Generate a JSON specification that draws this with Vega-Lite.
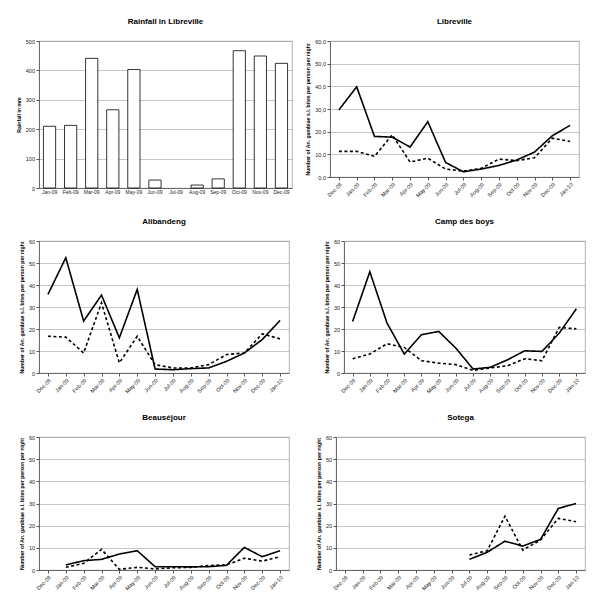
{
  "$schema": "https://vega.github.io/schema/vega-lite/v6.json",
  "background": "white",
  "padding": {"left": 15, "top": 17, "right": 5, "bottom": 5},
  "spacing": 18,
  "config": {
    "font": "Liberation Sans",
    "view": {"stroke": "#a0a0a0", "strokeWidth": 0.8},
    "title": {"fontSize": 8, "fontWeight": "bold", "color": "#000", "offset": 13, "anchor": "middle"},
    "axis": {
      "labelFont": "Liberation Sans", "labelFontSize": 5.5, "labelColor": "#222",
      "titleFont": "Liberation Sans", "titleFontSize": 5.2, "titleFontWeight": "bold", "titleColor": "#000",
      "gridColor": "#a0a0a0", "gridWidth": 0.6, "domainColor": "#555", "domainWidth": 0.8,
      "tickColor": "#555", "tickSize": 3, "labelPadding": 1.5, "titlePadding": 4
    }
  },
  "datasets": {
    "rain": [
      {"month": "Jan-09", "mm": 210}, {"month": "Feb-09", "mm": 213}, {"month": "Mar-09", "mm": 441},
      {"month": "Apr-09", "mm": 266}, {"month": "May-09", "mm": 403}, {"month": "Jun-09", "mm": 27},
      {"month": "Jul-09", "mm": 0}, {"month": "Aug-09", "mm": 10}, {"month": "Sep-09", "mm": 31},
      {"month": "Oct-09", "mm": 467}, {"month": "Nov-09", "mm": 449}, {"month": "Dec-09", "mm": 424}
    ],
    "bites": [
      {"site": "Libreville", "series": "A", "month": "Dec-08", "value": 29.6},
      {"site": "Libreville", "series": "A", "month": "Jan-09", "value": 39.8},
      {"site": "Libreville", "series": "A", "month": "Feb-09", "value": 17.9},
      {"site": "Libreville", "series": "A", "month": "Mar-09", "value": 17.6},
      {"site": "Libreville", "series": "A", "month": "Apr-09", "value": 13.2},
      {"site": "Libreville", "series": "A", "month": "May-09", "value": 24.4},
      {"site": "Libreville", "series": "A", "month": "Jun-09", "value": 6.4},
      {"site": "Libreville", "series": "A", "month": "Jul-09", "value": 2.3},
      {"site": "Libreville", "series": "A", "month": "Aug-09", "value": 3.5},
      {"site": "Libreville", "series": "A", "month": "Sep-09", "value": 5.1},
      {"site": "Libreville", "series": "A", "month": "Oct-09", "value": 7.5},
      {"site": "Libreville", "series": "A", "month": "Nov-09", "value": 11.0},
      {"site": "Libreville", "series": "A", "month": "Dec-09", "value": 18.2},
      {"site": "Libreville", "series": "A", "month": "Jan-10", "value": 22.8},
      {"site": "Libreville", "series": "B", "month": "Dec-08", "value": 11.3},
      {"site": "Libreville", "series": "B", "month": "Jan-09", "value": 11.3},
      {"site": "Libreville", "series": "B", "month": "Feb-09", "value": 9.1},
      {"site": "Libreville", "series": "B", "month": "Mar-09", "value": 18.6},
      {"site": "Libreville", "series": "B", "month": "Apr-09", "value": 6.6},
      {"site": "Libreville", "series": "B", "month": "May-09", "value": 8.3},
      {"site": "Libreville", "series": "B", "month": "Jun-09", "value": 3.5},
      {"site": "Libreville", "series": "B", "month": "Jul-09", "value": 2.6},
      {"site": "Libreville", "series": "B", "month": "Aug-09", "value": 3.8},
      {"site": "Libreville", "series": "B", "month": "Sep-09", "value": 7.9},
      {"site": "Libreville", "series": "B", "month": "Oct-09", "value": 7.2},
      {"site": "Libreville", "series": "B", "month": "Nov-09", "value": 8.5},
      {"site": "Libreville", "series": "B", "month": "Dec-09", "value": 17.1},
      {"site": "Libreville", "series": "B", "month": "Jan-10", "value": 15.7},
      {"site": "Alibandeng", "series": "A", "month": "Dec-08", "value": 35.7},
      {"site": "Alibandeng", "series": "A", "month": "Jan-09", "value": 52.4},
      {"site": "Alibandeng", "series": "A", "month": "Feb-09", "value": 23.6},
      {"site": "Alibandeng", "series": "A", "month": "Mar-09", "value": 35.4},
      {"site": "Alibandeng", "series": "A", "month": "Apr-09", "value": 16.0},
      {"site": "Alibandeng", "series": "A", "month": "May-09", "value": 38.0},
      {"site": "Alibandeng", "series": "A", "month": "Jun-09", "value": 1.8},
      {"site": "Alibandeng", "series": "A", "month": "Jul-09", "value": 1.5},
      {"site": "Alibandeng", "series": "A", "month": "Aug-09", "value": 2.0},
      {"site": "Alibandeng", "series": "A", "month": "Sep-09", "value": 2.3},
      {"site": "Alibandeng", "series": "A", "month": "Oct-09", "value": 5.3},
      {"site": "Alibandeng", "series": "A", "month": "Nov-09", "value": 9.1},
      {"site": "Alibandeng", "series": "A", "month": "Dec-09", "value": 15.2},
      {"site": "Alibandeng", "series": "A", "month": "Jan-10", "value": 23.9},
      {"site": "Alibandeng", "series": "B", "month": "Dec-08", "value": 16.7},
      {"site": "Alibandeng", "series": "B", "month": "Jan-09", "value": 16.3},
      {"site": "Alibandeng", "series": "B", "month": "Feb-09", "value": 9.1},
      {"site": "Alibandeng", "series": "B", "month": "Mar-09", "value": 31.9},
      {"site": "Alibandeng", "series": "B", "month": "Apr-09", "value": 4.6},
      {"site": "Alibandeng", "series": "B", "month": "May-09", "value": 16.7},
      {"site": "Alibandeng", "series": "B", "month": "Jun-09", "value": 3.8},
      {"site": "Alibandeng", "series": "B", "month": "Jul-09", "value": 2.3},
      {"site": "Alibandeng", "series": "B", "month": "Aug-09", "value": 2.3},
      {"site": "Alibandeng", "series": "B", "month": "Sep-09", "value": 3.8},
      {"site": "Alibandeng", "series": "B", "month": "Oct-09", "value": 8.4},
      {"site": "Alibandeng", "series": "B", "month": "Nov-09", "value": 9.1},
      {"site": "Alibandeng", "series": "B", "month": "Dec-09", "value": 17.8},
      {"site": "Alibandeng", "series": "B", "month": "Jan-10", "value": 15.5},
      {"site": "Camp des boys", "series": "A", "month": "Dec-08", "value": 23.4},
      {"site": "Camp des boys", "series": "A", "month": "Jan-09", "value": 46.0},
      {"site": "Camp des boys", "series": "A", "month": "Feb-09", "value": 22.7},
      {"site": "Camp des boys", "series": "A", "month": "Mar-09", "value": 8.6},
      {"site": "Camp des boys", "series": "A", "month": "Apr-09", "value": 17.4},
      {"site": "Camp des boys", "series": "A", "month": "May-09", "value": 18.9},
      {"site": "Camp des boys", "series": "A", "month": "Jun-09", "value": 11.3},
      {"site": "Camp des boys", "series": "A", "month": "Jul-09", "value": 1.8},
      {"site": "Camp des boys", "series": "A", "month": "Aug-09", "value": 2.6},
      {"site": "Camp des boys", "series": "A", "month": "Sep-09", "value": 6.0},
      {"site": "Camp des boys", "series": "A", "month": "Oct-09", "value": 10.1},
      {"site": "Camp des boys", "series": "A", "month": "Nov-09", "value": 9.8},
      {"site": "Camp des boys", "series": "A", "month": "Dec-09", "value": 18.1},
      {"site": "Camp des boys", "series": "A", "month": "Jan-10", "value": 29.2},
      {"site": "Camp des boys", "series": "B", "month": "Dec-08", "value": 6.5},
      {"site": "Camp des boys", "series": "B", "month": "Jan-09", "value": 8.6},
      {"site": "Camp des boys", "series": "B", "month": "Feb-09", "value": 13.3},
      {"site": "Camp des boys", "series": "B", "month": "Mar-09", "value": 11.6},
      {"site": "Camp des boys", "series": "B", "month": "Apr-09", "value": 5.6},
      {"site": "Camp des boys", "series": "B", "month": "May-09", "value": 4.5},
      {"site": "Camp des boys", "series": "B", "month": "Jun-09", "value": 3.8},
      {"site": "Camp des boys", "series": "B", "month": "Jul-09", "value": 1.2},
      {"site": "Camp des boys", "series": "B", "month": "Aug-09", "value": 2.3},
      {"site": "Camp des boys", "series": "B", "month": "Sep-09", "value": 3.3},
      {"site": "Camp des boys", "series": "B", "month": "Oct-09", "value": 6.5},
      {"site": "Camp des boys", "series": "B", "month": "Nov-09", "value": 5.6},
      {"site": "Camp des boys", "series": "B", "month": "Dec-09", "value": 20.7},
      {"site": "Camp des boys", "series": "B", "month": "Jan-10", "value": 20.1},
      {"site": "Beauséjour", "series": "A", "month": "Jan-09", "value": 2.3},
      {"site": "Beauséjour", "series": "A", "month": "Feb-09", "value": 4.2},
      {"site": "Beauséjour", "series": "A", "month": "Mar-09", "value": 4.8},
      {"site": "Beauséjour", "series": "A", "month": "Apr-09", "value": 7.2},
      {"site": "Beauséjour", "series": "A", "month": "May-09", "value": 8.7},
      {"site": "Beauséjour", "series": "A", "month": "Jun-09", "value": 1.5},
      {"site": "Beauséjour", "series": "A", "month": "Jul-09", "value": 1.5},
      {"site": "Beauséjour", "series": "A", "month": "Aug-09", "value": 1.4},
      {"site": "Beauséjour", "series": "A", "month": "Sep-09", "value": 1.5},
      {"site": "Beauséjour", "series": "A", "month": "Oct-09", "value": 2.1},
      {"site": "Beauséjour", "series": "A", "month": "Nov-09", "value": 10.2},
      {"site": "Beauséjour", "series": "A", "month": "Dec-09", "value": 6.0},
      {"site": "Beauséjour", "series": "A", "month": "Jan-10", "value": 8.7},
      {"site": "Beauséjour", "series": "B", "month": "Jan-09", "value": 1.2},
      {"site": "Beauséjour", "series": "B", "month": "Feb-09", "value": 3.0},
      {"site": "Beauséjour", "series": "B", "month": "Mar-09", "value": 9.3},
      {"site": "Beauséjour", "series": "B", "month": "Apr-09", "value": 0.3},
      {"site": "Beauséjour", "series": "B", "month": "May-09", "value": 1.2},
      {"site": "Beauséjour", "series": "B", "month": "Jun-09", "value": 0.5},
      {"site": "Beauséjour", "series": "B", "month": "Jul-09", "value": 1.0},
      {"site": "Beauséjour", "series": "B", "month": "Aug-09", "value": 1.2},
      {"site": "Beauséjour", "series": "B", "month": "Sep-09", "value": 2.0},
      {"site": "Beauséjour", "series": "B", "month": "Oct-09", "value": 2.3},
      {"site": "Beauséjour", "series": "B", "month": "Nov-09", "value": 5.3},
      {"site": "Beauséjour", "series": "B", "month": "Dec-09", "value": 4.0},
      {"site": "Beauséjour", "series": "B", "month": "Jan-10", "value": 6.0},
      {"site": "Sotega", "series": "A", "month": "Jul-09", "value": 4.8},
      {"site": "Sotega", "series": "A", "month": "Aug-09", "value": 8.0},
      {"site": "Sotega", "series": "A", "month": "Sep-09", "value": 13.0},
      {"site": "Sotega", "series": "A", "month": "Oct-09", "value": 10.8},
      {"site": "Sotega", "series": "A", "month": "Nov-09", "value": 13.8},
      {"site": "Sotega", "series": "A", "month": "Dec-09", "value": 27.8},
      {"site": "Sotega", "series": "A", "month": "Jan-10", "value": 30.0},
      {"site": "Sotega", "series": "B", "month": "Jul-09", "value": 6.8},
      {"site": "Sotega", "series": "B", "month": "Aug-09", "value": 8.7},
      {"site": "Sotega", "series": "B", "month": "Sep-09", "value": 24.3},
      {"site": "Sotega", "series": "B", "month": "Oct-09", "value": 9.0},
      {"site": "Sotega", "series": "B", "month": "Nov-09", "value": 13.5},
      {"site": "Sotega", "series": "B", "month": "Dec-09", "value": 23.3},
      {"site": "Sotega", "series": "B", "month": "Jan-10", "value": 21.8}
    ]
  },
  "vconcat": [
    {
      "spacing": 12,
      "hconcat": [
        {
          "width": 253, "height": 147,
          "title": "Rainfall in Libreville",
          "data": {"name": "rain"},
          "transform": [{"filter": "datum.mm > 0"}],
          "mark": {"type": "bar", "fill": "white", "stroke": "black", "strokeWidth": 0.8},
          "encoding": {
            "x": {"field": "month", "type": "ordinal",
                  "scale": {"domain": ["Jan-09","Feb-09","Mar-09","Apr-09","May-09","Jun-09","Jul-09","Aug-09","Sep-09","Oct-09","Nov-09","Dec-09"], "paddingInner": 0.42, "paddingOuter": 0.21},
                  "axis": {"title": null, "labelAngle": 0, "labelFontSize": 5, "ticks": false}},
            "y": {"field": "mm", "type": "quantitative", "scale": {"domain": [0, 500]},
                  "axis": {"title": "Rainfall in mm", "values": [0, 100, 200, 300, 400, 500]}}
          }
        },
        {
          "width": 249, "height": 136,
          "title": "Libreville",
          "data": {"name": "bites"},
          "transform": [{"filter": "datum.site === 'Libreville'"}],
          "mark": {"type": "line", "strokeWidth": 1.6, "color": "black"},
          "encoding": {
            "x": {"field": "month", "type": "ordinal",
                  "scale": {"type": "point", "padding": 0.5, "domain": ["Dec-08","Jan-09","Feb-09","Mar-09","Apr-09","May-09","Jun-09","Jul-09","Aug-09","Sep-09","Oct-09","Nov-09","Dec-09","Jan-10"]},
                  "axis": {"title": null, "labelAngle": -45}},
            "y": {"field": "value", "type": "quantitative", "scale": {"domain": [0, 60]},
                  "axis": {"title": "Number of An. gambiae s.l. bites per person per night", "values": [0, 10, 20, 30, 40, 50, 60], "format": ".1f", "labelExpr": "replace(datum.label, '.', ',')"}},
            "strokeDash": {"field": "series", "type": "nominal", "scale": {"domain": ["A", "B"], "range": [[1, 0], [3, 2.5]]}, "legend": null}
          }
        }
      ]
    },
    {
      "spacing": 33,
      "hconcat": [
        {
          "width": 250, "height": 132,
          "title": "Alibandeng",
          "data": {"name": "bites"},
          "transform": [{"filter": "datum.site === 'Alibandeng'"}],
          "mark": {"type": "line", "strokeWidth": 1.6, "color": "black"},
          "encoding": {
            "x": {"field": "month", "type": "ordinal",
                  "scale": {"type": "point", "padding": 0.5, "domain": ["Dec-08","Jan-09","Feb-09","Mar-09","Apr-09","May-09","Jun-09","Jul-09","Aug-09","Sep-09","Oct-09","Nov-09","Dec-09","Jan-10"]},
                  "axis": {"title": null, "labelAngle": -45}},
            "y": {"field": "value", "type": "quantitative", "scale": {"domain": [0, 60]},
                  "axis": {"title": "Number of An. gambiae s.l. bites per person per night", "values": [0, 10, 20, 30, 40, 50, 60]}},
            "strokeDash": {"field": "series", "type": "nominal", "scale": {"domain": ["A", "B"], "range": [[1, 0], [3, 2.5]]}, "legend": null}
          }
        },
        {
          "width": 241, "height": 132,
          "title": "Camp des boys",
          "data": {"name": "bites"},
          "transform": [{"filter": "datum.site === 'Camp des boys'"}],
          "mark": {"type": "line", "strokeWidth": 1.6, "color": "black"},
          "encoding": {
            "x": {"field": "month", "type": "ordinal",
                  "scale": {"type": "point", "padding": 0.5, "domain": ["Dec-08","Jan-09","Feb-09","Mar-09","Apr-09","May-09","Jun-09","Jul-09","Aug-09","Sep-09","Oct-09","Nov-09","Dec-09","Jan-10"]},
                  "axis": {"title": null, "labelAngle": -45}},
            "y": {"field": "value", "type": "quantitative", "scale": {"domain": [0, 60]},
                  "axis": {"title": "Number of An. gambiae s.l. bites per person per night", "values": [0, 10, 20, 30, 40, 50, 60]}},
            "strokeDash": {"field": "series", "type": "nominal", "scale": {"domain": ["A", "B"], "range": [[1, 0], [3, 2.5]]}, "legend": null}
          }
        }
      ]
    },
    {
      "spacing": 25,
      "hconcat": [
        {
          "width": 250, "height": 133,
          "title": "Beauséjour",
          "data": {"name": "bites"},
          "transform": [{"filter": "datum.site === 'Beauséjour'"}],
          "mark": {"type": "line", "strokeWidth": 1.6, "color": "black"},
          "encoding": {
            "x": {"field": "month", "type": "ordinal",
                  "scale": {"type": "point", "padding": 0.5, "domain": ["Dec-08","Jan-09","Feb-09","Mar-09","Apr-09","May-09","Jun-09","Jul-09","Aug-09","Sep-09","Oct-09","Nov-09","Dec-09","Jan-10"]},
                  "axis": {"title": null, "labelAngle": -45}},
            "y": {"field": "value", "type": "quantitative", "scale": {"domain": [0, 60]},
                  "axis": {"title": "Number of An. gambiae s.l. bites per person per night", "values": [0, 10, 20, 30, 40, 50, 60]}},
            "strokeDash": {"field": "series", "type": "nominal", "scale": {"domain": ["A", "B"], "range": [[1, 0], [3, 2.5]]}, "legend": null}
          }
        },
        {
          "width": 249, "height": 133,
          "title": "Sotega",
          "data": {"name": "bites"},
          "transform": [{"filter": "datum.site === 'Sotega'"}],
          "mark": {"type": "line", "strokeWidth": 1.6, "color": "black"},
          "encoding": {
            "x": {"field": "month", "type": "ordinal",
                  "scale": {"type": "point", "padding": 0.5, "domain": ["Dec-08","Jan-09","Feb-09","Mar-09","Apr-09","May-09","Jun-09","Jul-09","Aug-09","Sep-09","Oct-09","Nov-09","Dec-09","Jan-10"]},
                  "axis": {"title": null, "labelAngle": -45}},
            "y": {"field": "value", "type": "quantitative", "scale": {"domain": [0, 60]},
                  "axis": {"title": "Number of An. gambiae s.l. bites per person per night", "values": [0, 10, 20, 30, 40, 50, 60]}},
            "strokeDash": {"field": "series", "type": "nominal", "scale": {"domain": ["A", "B"], "range": [[1, 0], [3, 2.5]]}, "legend": null}
          }
        }
      ]
    }
  ]
}
